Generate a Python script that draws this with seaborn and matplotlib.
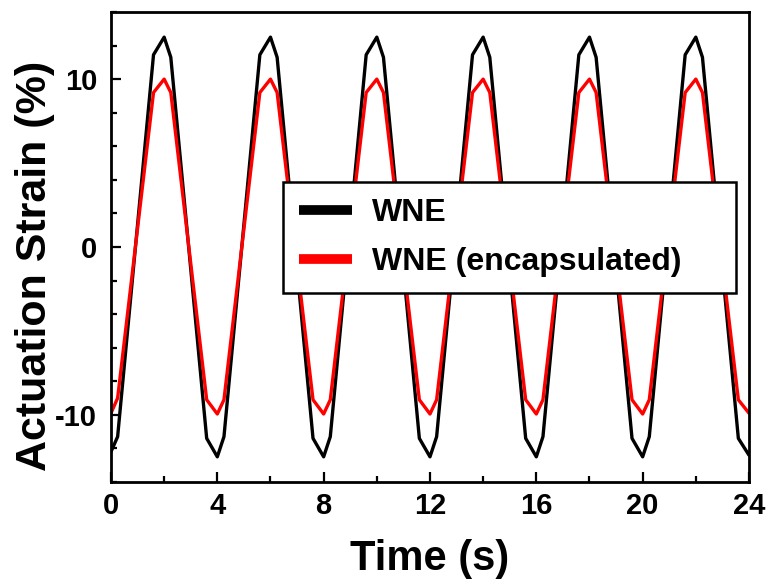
import matplotlib
matplotlib.use("Agg")
import matplotlib.pyplot as plt
import seaborn as sns
import pandas as pd
from matplotlib.ticker import MultipleLocator, FixedLocator

# ---- data ----
time_s = [0.0, 0.25, 1.6, 2.0, 2.25, 3.6,
          4.0, 4.25, 5.6, 6.0, 6.25, 7.6,
          8.0, 8.25, 9.6, 10.0, 10.25, 11.6,
          12.0, 12.25, 13.6, 14.0, 14.25, 15.6,
          16.0, 16.25, 17.6, 18.0, 18.25, 19.6,
          20.0, 20.25, 21.6, 22.0, 22.25, 23.6,
          24.0]
wne = [-12.2, -11.3, 11.45, 12.5, 11.3, -11.4,
       -12.5, -11.3, 11.45, 12.5, 11.3, -11.4,
       -12.5, -11.3, 11.45, 12.5, 11.3, -11.4,
       -12.5, -11.3, 11.45, 12.5, 11.3, -11.4,
       -12.5, -11.3, 11.45, 12.5, 11.3, -11.4,
       -12.5, -11.3, 11.45, 12.5, 11.3, -11.4,
       -12.4]
wne_enc = [-9.9, -9.0, 9.2, 10.0, 9.2, -9.1,
           -9.95, -9.1, 9.2, 10.0, 9.2, -9.1,
           -9.95, -9.1, 9.2, 10.0, 9.2, -9.1,
           -9.95, -9.1, 9.2, 10.0, 9.2, -9.1,
           -9.95, -9.1, 9.2, 10.0, 9.2, -9.1,
           -9.95, -9.1, 9.2, 10.0, 9.2, -9.1,
           -9.9]
series_names = ["WNE", "WNE (encapsulated)"]
series_colors = ["#000000", "#ff0000"]
x_ticks = [0, 4, 8, 12, 16, 20, 24]
y_ticks = [-10, 0, 10]

df = pd.concat([
    pd.DataFrame({"Time": time_s, "Strain": wne, "Series": series_names[0]}),
    pd.DataFrame({"Time": time_s, "Strain": wne_enc, "Series": series_names[1]}),
], ignore_index=True)

sns.set_style("ticks")
plt.rcParams["font.family"] = ["Liberation Sans", "DejaVu Sans"]
plt.rcParams["axes.unicode_minus"] = False
plt.rcParams["text.color"] = "black"
plt.rcParams["axes.labelcolor"] = "black"
plt.rcParams["xtick.color"] = "black"
plt.rcParams["ytick.color"] = "black"

fig = plt.figure(figsize=(7.67, 5.87), dpi=100)
ax = fig.add_axes([0.1447, 0.1789, 0.8318, 0.8007])

sns.lineplot(data=df, x="Time", y="Strain", hue="Series", hue_order=series_names,
             palette=dict(zip(series_names, series_colors)), linewidth=2.4,
             sort=False, estimator=None, ax=ax)

ax.set_xlim(0, 24)
ax.set_ylim(-14, 14)
ax.xaxis.set_major_locator(FixedLocator(x_ticks))
ax.xaxis.set_minor_locator(MultipleLocator(2))
ax.yaxis.set_major_locator(FixedLocator(y_ticks))
ax.yaxis.set_minor_locator(MultipleLocator(2))
ax.set_xticklabels([str(v) for v in x_ticks])
ax.set_yticklabels([str(v) for v in y_ticks])

for s in ax.spines.values():
    s.set_visible(True)
    s.set_linewidth(2.0)
    s.set_color("black")

ax.tick_params(axis="both", which="major", direction="in", length=7, width=1.6,
               labelsize=21, colors="black")
ax.tick_params(axis="x", which="major", pad=7)
ax.tick_params(axis="y", which="major", pad=10)
ax.tick_params(axis="both", which="minor", direction="in", length=4, width=1.6)
ax.tick_params(top=False, right=False, which="both")
for lab in ax.get_xticklabels() + ax.get_yticklabels():
    lab.set_fontweight("bold")

ax.set_xlabel("Time (s)", fontsize=30, fontweight="bold", labelpad=14, color="black")
ax.set_ylabel("Actuation Strain (%)", fontsize=31, fontweight="bold", color="black")
ax.yaxis.set_label_coords(-0.088, 0.46)

leg = ax.legend(loc="upper left", bbox_to_anchor=(0.27, 0.398, 0.71, 0.24),
                mode="expand", borderaxespad=0, frameon=True,
                fancybox=False, edgecolor="black", framealpha=1,
                handlelength=1.65, handletextpad=0.62, labelspacing=0.6,
                borderpad=0.5, prop={"weight": "bold", "size": 23})
leg.get_frame().set_linewidth(1.8)
for line in leg.get_lines():
    line.set_linewidth(7)
    line.set_solid_capstyle("butt")

fig.savefig("out.png", dpi=100)
